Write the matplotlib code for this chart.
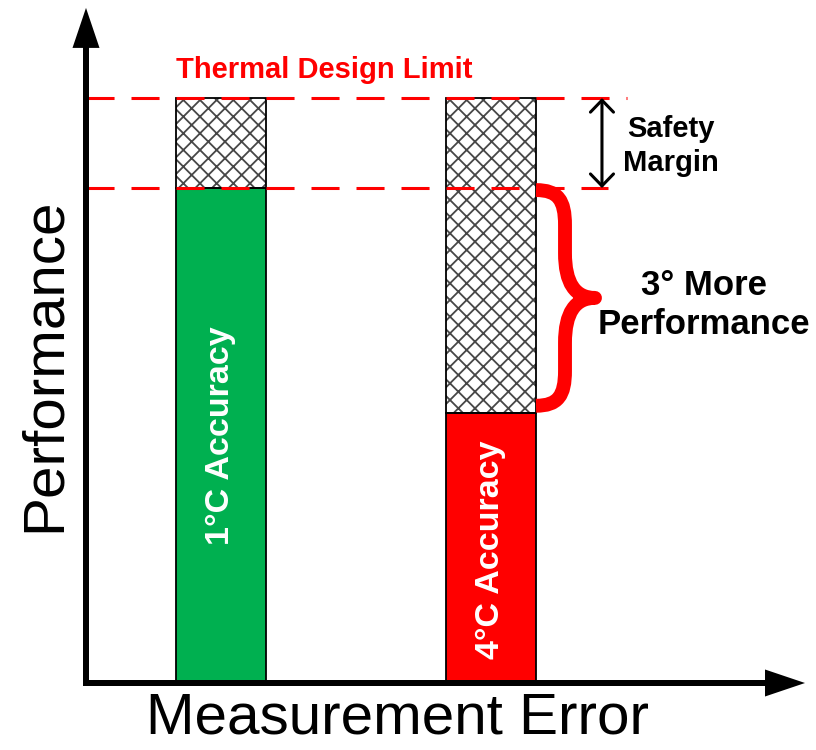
import matplotlib.pyplot as plt
from matplotlib.path import Path
from matplotlib.patches import PathPatch

plt.rcParams['font.family'] = ['Liberation Sans', 'DejaVu Sans']
plt.rcParams['hatch.linewidth'] = 1.3
plt.rcParams['lines.scale_dashes'] = False

# data
categories = ['1°C Accuracy', '4°C Accuracy']
performance = [84.6, 46.2]
design_limit = 100
bar_colors = ['#00B050', '#FF0000']
positions = [0, 1]
bar_width = 1 / 3

fig = plt.figure(figsize=(8.16, 7.5), dpi=100)
ax = fig.add_axes([0, 0, 1, 1])
ax.set_xlim(-221 / 270, 595 / 270)
ax.set_ylim(-67 / 5.85, 683 / 5.85)
ax.axis('off')

# size of one pixel in data units
px_x = 1 / 270
px_y = 1 / 5.85

x0 = -0.5          # where the vertical axis sits
y_end = 115.4      # top of the vertical axis arrow
x_end = 2.163      # end of the horizontal axis arrow

# bars
ax.bar(positions, performance, width=bar_width, color=bar_colors,
       edgecolor='none', zorder=2)
# hatched headroom up to the design limit
headroom = [design_limit - p for p in performance]
ax.bar(positions, headroom, bottom=performance, width=bar_width, color='white',
       edgecolor='#474747', hatch='xx', lw=0, zorder=2)
# outlines
ax.bar(positions, performance, width=bar_width, fill=False,
       edgecolor='black', lw=1.3, zorder=3)
ax.bar(positions, headroom, bottom=performance, width=bar_width, fill=False,
       edgecolor='black', lw=1.3, zorder=3)

# bar labels
for pos, name, top in zip(positions, categories, performance):
    yc = 42.2 if pos == 0 else 22.7
    ax.text(pos, yc, name, rotation=90, ha='center', va='center',
            color='white', fontsize=24.5, fontweight='bold', zorder=6)

# dashed reference lines
safety_x = positions[1] + 0.411
ax.plot([x0, safety_x + 25 * px_x], [design_limit, design_limit],
        color='red', lw=2.2, dashes=(20.2, 12.2), dash_capstyle='butt', zorder=4)
ax.plot([x0, safety_x + 6 * px_x], [performance[0], performance[0]],
        color='red', lw=2.2, dashes=(20.2, 12.2), dash_capstyle='butt', zorder=4)
ax.text(0.381, 103.4, 'Thermal Design Limit', ha='center', va='baseline',
        color='red', fontsize=21, fontweight='bold', zorder=6)

# safety margin arrow
ax.annotate('', xy=(safety_x, design_limit), xytext=(safety_x, performance[0]),
            arrowprops=dict(arrowstyle='<->,head_length=8.6,head_width=8.3',
                            mutation_scale=1, lw=2.2, color='black',
                            shrinkA=0, shrinkB=0), zorder=5)
ax.text(1.665, 91.8, 'Safety\nMargin', ha='center', va='center',
        fontsize=21, fontweight='bold', linespacing=1.3, zorder=6)

# curly brace between the two bar tops
xl = positions[1] + bar_width / 2
yt = performance[0] - 2 * px_y
yb = performance[1] + 7 * px_y
ym = (yt + yb) / 2
xv = xl + 29 * px_x
xt = xl + 59 * px_x
verts = [
    (xl, yt),
    (xl + 22 * px_x, yt), (xv, yt - 10 * px_y), (xv, yt - 35 * px_y),
    (xv, ym + 45 * px_y),
    (xv, ym + 15 * px_y), (xv + 10 * px_x, ym), (xt, ym),
    (xv + 10 * px_x, ym), (xv, ym - 15 * px_y), (xv, ym - 45 * px_y),
    (xv, yb + 35 * px_y),
    (xv, yb + 10 * px_y), (xl + 22 * px_x, yb), (xl, yb),
]
codes = [Path.MOVETO,
         Path.CURVE4, Path.CURVE4, Path.CURVE4,
         Path.LINETO,
         Path.CURVE4, Path.CURVE4, Path.CURVE4,
         Path.CURVE4, Path.CURVE4, Path.CURVE4,
         Path.LINETO,
         Path.CURVE4, Path.CURVE4, Path.CURVE4]
ax.add_patch(PathPatch(Path(verts, codes), fill=False, edgecolor='red',
                       lw=10, capstyle='butt', joinstyle='round', zorder=4))
ax.text(1.789, 64.6, '3° More\nPerformance', ha='center', va='center',
        fontsize=25, fontweight='bold', linespacing=1.2, zorder=6)

# axes with arrow heads
ax.arrow(x0, -3 * px_y, 0, y_end + 3 * px_y, width=6 * px_x,
         head_width=27 * px_x, head_length=40 * px_y,
         length_includes_head=True, fc='black', ec='none', zorder=5)
ax.arrow(x0 - 3 * px_x, 0, x_end - x0 + 3 * px_x, 0, width=6 * px_y,
         head_width=27 * px_y, head_length=40 * px_x,
         length_includes_head=True, fc='black', ec='none', zorder=5)

ax.text(-0.596, 54.4, 'Performance', rotation=90, rotation_mode='anchor',
        ha='center', va='baseline', fontsize=42, zorder=6)
ax.text(0.652, -8.55, 'Measurement Error', ha='center', va='baseline',
        fontsize=42, zorder=6)

fig.savefig('out.png', dpi=100)
